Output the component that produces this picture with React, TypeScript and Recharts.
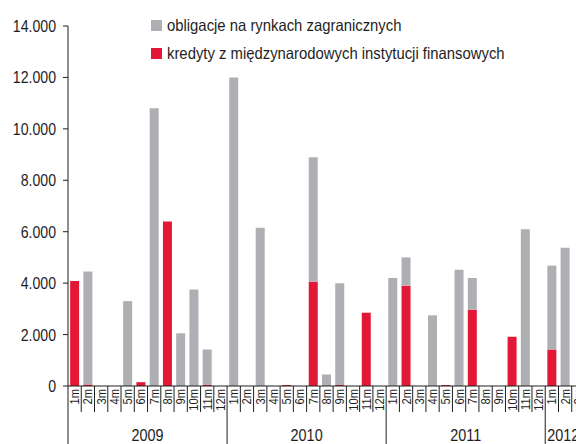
import { BarChart, Bar, XAxis, YAxis, Legend } from 'recharts';

const months = [
  '1m', '2m', '3m', '4m', '5m', '6m', '7m', '8m', '9m', '10m', '11m', '12m',
  '1m', '2m', '3m', '4m', '5m', '6m', '7m', '8m', '9m', '10m', '11m', '12m',
  '1m', '2m', '3m', '4m', '5m', '6m', '7m', '8m', '9m', '10m', '11m', '12m',
  '1m', '2m', '3m',
];

// year label, index of first month, full year or cut off
const years = [
  { label: '2009', start: 0, full: true },
  { label: '2010', start: 12, full: true },
  { label: '2011', start: 24, full: true },
  { label: '2012', start: 36, full: false },
];

// kredyty z międzynarodowych instytucji finansowych
const kredyty = [
  4080, 60, 0, 0, 0, 150, 0, 6400, 0, 0, 40, 0,
  0, 0, 0, 0, 40, 0, 4050, 0, 40, 0, 2850, 0,
  0, 3900, 0, 0, 40, 0, 2970, 0, 0, 1920, 0, 0,
  1420, 0, 0,
];

// obligacje na rynkach zagranicznych
const obligacje = [
  0, 4390, 0, 0, 3300, 0, 10800, 0, 2050, 3750, 1380, 0,
  12000, 0, 6150, 0, 0, 0, 4850, 450, 3960, 0, 0, 0,
  4200, 1100, 0, 2750, 0, 4520, 1230, 0, 0, 0, 6100, 0,
  3260, 5380, 0,
];

const yTicks = [0, 2000, 4000, 6000, 8000, 10000, 12000, 14000];

const GRAY = '#aeafb3';
const RED = '#e31837';
const INK = '#1e1e1e';
const FONT = '"Liberation Sans Narrow", "Arial Narrow", "Liberation Sans", Arial, sans-serif';
const NARROW = 0.83; // no narrow font installed, squeeze the regular one

const data = months.map((m, i) => ({
  idx: i,
  month: m,
  kredyty: kredyty[i],
  obligacje: obligacje[i],
}));

const fmt = (v: number) => (v === 0 ? '0' : v.toLocaleString('de-DE'));

function YTick(props: any) {
  const { x, y, payload } = props;
  return (
    <text
      transform={`translate(${x},${y + 6}) scale(${NARROW},1)`}
      textAnchor="end"
      fontSize={17}
      fill={INK}
      fontFamily={FONT}
    >
      {fmt(payload.value)}
    </text>
  );
}

function MonthTick(props: any) {
  const { x, y, payload } = props;
  const i = payload.value as number;
  const half = payload.offset ?? 6.6;
  const left = x - half;
  const yr = years.find((g) => g.start === i);
  const mid = years.find((g) => g.full && g.start + 6 === i);
  return (
    <g>
      <line x1={left} x2={left} y1={y} y2={yr ? y + 60 : y + 26} stroke={INK} strokeWidth={1} />
      <text
        transform={`translate(${x + 4.5},${y + 3}) rotate(-90) scale(${NARROW},1)`}
        textAnchor="end"
        fontSize={13.5}
        fill={INK}
        fontFamily={FONT}
      >
        {months[i]}
      </text>
      {mid && (
        <text
          transform={`translate(${left},${y + 55}) scale(0.9,1)`}
          textAnchor="middle"
          fontSize={16}
          fill={INK}
          fontFamily={FONT}
        >
          {mid.label}
        </text>
      )}
      {yr && !yr.full && (
        <text
          transform={`translate(${left + 2},${y + 55}) scale(0.9,1)`}
          textAnchor="start"
          fontSize={16}
          fill={INK}
          fontFamily={FONT}
        >
          {yr.label}
        </text>
      )}
    </g>
  );
}

function LegendBox() {
  const items = [
    { color: GRAY, name: 'obligacje na rynkach zagranicznych' },
    { color: RED, name: 'kredyty z międzynarodowych instytucji finansowych' },
  ];
  return (
    <div style={{ fontFamily: FONT, fontSize: 16.5, color: INK }}>
      {items.map((it) => (
        <div key={it.name} style={{ display: 'flex', alignItems: 'center', height: 28 }}>
          <span style={{ width: 11, height: 11, background: it.color, marginRight: 5, flex: 'none' }} />
          <span
            style={{
              display: 'inline-block',
              whiteSpace: 'nowrap',
              transform: 'scaleX(0.9)',
              transformOrigin: 'left center',
            }}
          >
            {it.name}
          </span>
        </div>
      ))}
    </div>
  );
}

export default function App() {
  return (
    <div
      style={{
        position: 'fixed',
        left: 0,
        top: 0,
        width: 576,
        height: 444,
        overflow: 'hidden',
        background: '#fff',
        fontFamily: FONT,
      }}
    >
      <BarChart
        width={585}
        height={444}
        data={data}
        margin={{ top: 26, right: 0, left: 8, bottom: 0 }}
        barCategoryGap="16%"
      >
        <XAxis
          dataKey="idx"
          type="category"
          height={58}
          stroke={INK}
          tickLine={false}
          tickSize={0}
          tickMargin={0}
          interval={0}
          tick={<MonthTick />}
        />
        <YAxis
          width={60}
          domain={[0, 14000]}
          ticks={yTicks}
          stroke={INK}
          tickSize={5}
          tickMargin={7}
          tick={<YTick />}
          interval={0}
        />
        <Legend
          layout="horizontal"
          verticalAlign="middle"
          align="center"
          wrapperStyle={{ top: 11, left: 151, width: 420, height: 60 }}
          content={<LegendBox />}
        />
        <Bar dataKey="kredyty" stackId="a" fill={RED} isAnimationActive={false} />
        <Bar dataKey="obligacje" stackId="a" fill={GRAY} isAnimationActive={false} />
      </BarChart>
    </div>
  );
}
